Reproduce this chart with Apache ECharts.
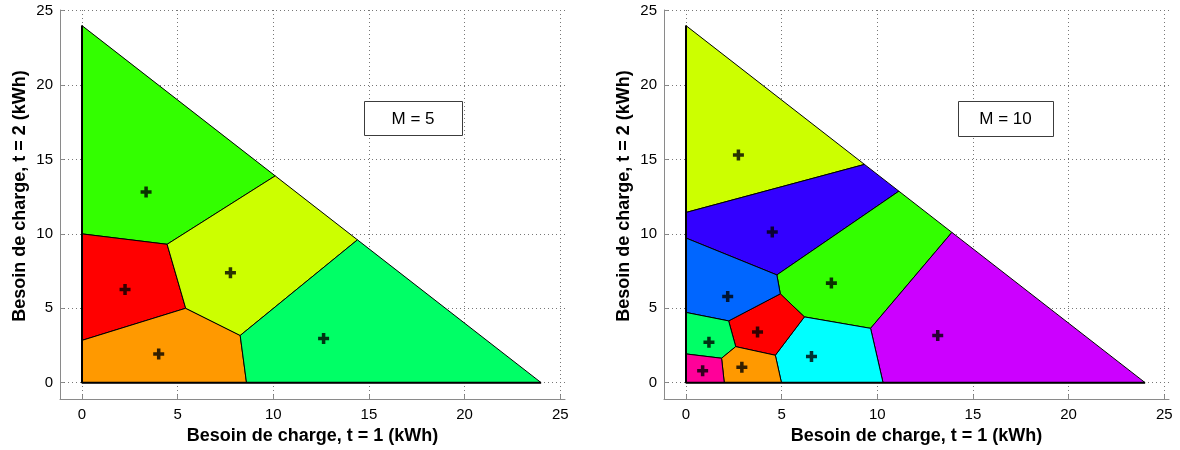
<!DOCTYPE html>
<html><head><meta charset="utf-8">
<script src="https://cdn.jsdelivr.net/npm/echarts@6/dist/echarts.min.js"></script>
<style>html,body{margin:0;padding:0;background:#fff}#c{width:1180px;height:450px}</style>
</head><body><div id="c"></div>
<script>
// ---- data ----
const tickValues = [0, 5, 10, 15, 20, 25];
const xTitle = 'Besoin de charge, t = 1 (kWh)';
const yTitle = 'Besoin de charge, t = 2 (kWh)';
const palette = ['#FF0000','#FF9900','#CCFF00','#33FF00','#00FF66','#00FFFF','#0066FF','#3300FF','#CC00FF','#FF0099'];

// feasible region legs (x = 0 and y = 0 sides of the triangle)
const triangleLegX = [0, 0, 24];
const triangleLegY = [24, 0, 0];

// M = 5 : Voronoi cells (vertex lists, kWh), colour index, centroids
const m5Cells = [
  [[0,24],[10.1,13.9],[4.45,9.3],[0,10]],
  [[0,10],[4.45,9.3],[5.42,5.0],[0,2.84]],
  [[0,2.84],[5.42,5.0],[8.27,3.17],[8.6,0],[0,0]],
  [[4.45,9.3],[10.1,13.9],[14.4,9.6],[8.27,3.17],[5.42,5.0]],
  [[8.27,3.17],[14.4,9.6],[24,0],[8.6,0]]
];
const m5Colors = [3, 0, 1, 2, 4];
const m5CentersX = [3.35, 2.25, 4.01, 7.76, 12.63];
const m5CentersY = [12.82, 6.26, 1.92, 7.39, 2.97];

// M = 10
const m10Cells = [
  [[0,24],[9.33,14.67],[0,11.44]],
  [[0,11.44],[9.33,14.67],[11.13,12.87],[4.75,7.24],[0,9.72]],
  [[4.75,7.24],[11.13,12.87],[13.9,10.1],[9.65,3.65],[6.19,4.42],[4.93,5.97]],
  [[9.65,3.65],[13.9,10.1],[24,0],[10.3,0]],
  [[4.67,1.84],[6.19,4.42],[9.65,3.65],[10.3,0],[4.99,0]],
  [[2.23,4.15],[4.93,5.97],[6.19,4.42],[4.67,1.84],[2.6,2.42]],
  [[0,9.72],[4.75,7.24],[4.93,5.97],[2.23,4.15],[0,4.72]],
  [[0,4.72],[2.23,4.15],[2.6,2.42],[1.86,1.64],[0,1.93]],
  [[1.86,1.64],[2.6,2.42],[4.67,1.84],[4.99,0],[2.0,0]],
  [[0,1.93],[1.86,1.64],[2.0,0],[0,0]]
];
const m10Colors = [2, 7, 3, 8, 5, 0, 6, 4, 1, 9];
const m10CentersX = [2.74, 4.51, 7.60, 13.16, 6.56, 3.74, 2.18, 1.20, 2.92, 0.87];
const m10CentersY = [15.30, 10.12, 6.69, 3.17, 1.76, 3.41, 5.79, 2.71, 1.04, 0.80];

const labels = ['M = 5', 'M = 10'];

// ---- chart ----
const FONT = '"Liberation Sans", Arial, sans-serif';
const X_MIN = -1.15, X_MAX = 25.25, Y_MIN = -1.1, Y_MAX = 25.05;

function xAxisCfg(i) {
  return {
    type: 'value', gridIndex: i, min: X_MIN, max: X_MAX,
    name: xTitle, nameLocation: 'middle', nameGap: 28,
    nameTextStyle: { fontFamily: FONT, fontSize: 18, fontWeight: 'bold', color: '#000' },
    axisLine: { onZero: false, lineStyle: { color: '#8a8a8a', width: 1 } },
    axisTick: { inside: true, length: 4, customValues: tickValues, lineStyle: { color: '#8a8a8a' } },
    axisLabel: { customValues: tickValues, fontFamily: FONT, fontSize: 15, color: '#000', margin: 8 },
    splitLine: { show: true, lineStyle: { color: '#777', type: [1, 3], width: 1 } }
  };
}
function yAxisCfg(i) {
  return {
    type: 'value', gridIndex: i, min: Y_MIN, max: Y_MAX,
    name: yTitle, nameLocation: 'middle', nameGap: 31,
    nameTextStyle: { fontFamily: FONT, fontSize: 18, fontWeight: 'bold', color: '#000', padding: [0, 0, 0, 17] },
    axisLine: { onZero: false, lineStyle: { color: '#8a8a8a', width: 1 } },
    axisTick: { inside: true, length: 4, customValues: tickValues, lineStyle: { color: '#8a8a8a' } },
    axisLabel: { customValues: tickValues, fontFamily: FONT, fontSize: 15, color: '#000', margin: 7 },
    splitLine: { show: true, lineStyle: { color: '#777', type: [1, 3], width: 1 } }
  };
}
function cellSeries(cells, colors, i) {
  return {
    type: 'custom', xAxisIndex: i, yAxisIndex: i, silent: true, clip: false, z: 2,
    data: cells.map(c => [c[0][0], c[0][1]]),
    encode: { x: 0, y: 1 },
    renderItem: (params, api) => {
      const cell = cells[params.dataIndex];
      return {
        type: 'polygon',
        shape: { points: cell.map(p => api.coord(p)) },
        style: { fill: palette[colors[params.dataIndex]], stroke: '#000', lineWidth: 1 }
      };
    }
  };
}
function legSeries(i) {
  return {
    type: 'line', xAxisIndex: i, yAxisIndex: i, silent: true, z: 3,
    symbol: 'none', lineStyle: { color: '#000', width: 2 },
    data: triangleLegX.map((x, k) => [x, triangleLegY[k]])
  };
}
const plusPath = 'path://M3.4,0H6.6V3.4H10V6.6H6.6V10H3.4V6.6H0V3.4H3.4Z';
function centerSeries(xs, ys, i) {
  return {
    type: 'scatter', xAxisIndex: i, yAxisIndex: i, silent: true, z: 5,
    symbol: plusPath, symbolSize: 11, itemStyle: { color: '#000' },
    data: xs.map((x, k) => [x, ys[k]])
  };
}
function box(x, y, w, h, text) {
  return [
    { type: 'rect', z: 100, shape: { x: x + 0.5, y: y + 0.5, width: w, height: h },
      style: { fill: '#fff', stroke: '#3c3c3c', lineWidth: 1 } },
    { type: 'text', z: 101, x: x + w / 2, y: y + h / 2 + 1,
      style: { text: text, fill: '#000', font: '17px ' + FONT, align: 'center', verticalAlign: 'middle' } }
  ];
}

const chart = echarts.init(document.getElementById('c'), null, { renderer: 'canvas' });
chart.setOption({
  animation: false,
  backgroundColor: '#fff',
  grid: [
    { left: 60, top: 10, width: 505, height: 391 },
    { left: 664, top: 10, width: 505, height: 391 }
  ],
  xAxis: [xAxisCfg(0), xAxisCfg(1)],
  yAxis: [yAxisCfg(0), yAxisCfg(1)],
  series: [
    cellSeries(m5Cells, m5Colors, 0),
    legSeries(0),
    centerSeries(m5CentersX, m5CentersY, 0),
    cellSeries(m10Cells, m10Colors, 1),
    legSeries(1),
    centerSeries(m10CentersX, m10CentersY, 1)
  ],
  graphic: [].concat(box(364, 101, 98, 34, labels[0]), box(958, 101, 95, 35, labels[1]))
});
</script>
</body></html>
